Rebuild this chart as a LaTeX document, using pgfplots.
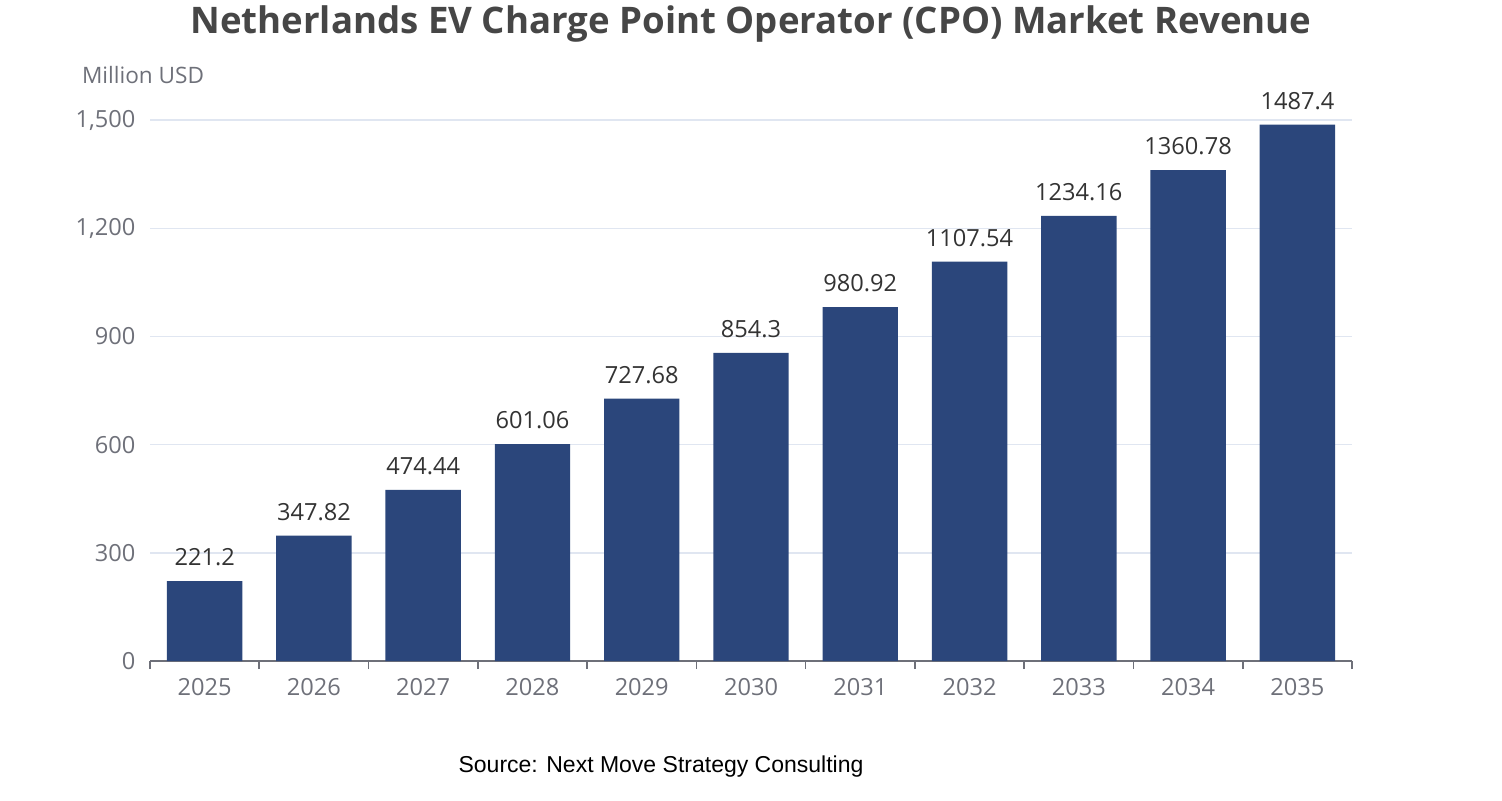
\documentclass[border=0pt]{standalone}
\usepackage{pgfplots}
\pgfplotsset{compat=1.18}
\usepackage{pgfplotstable}
\usepackage{fontspec}
\setmainfont{Open Sans}
\newfontfamily\srcfont{Liberation Sans}
\definecolor{barc}{HTML}{2B467B}
\definecolor{axc}{HTML}{6E7079}
\definecolor{gridc}{HTML}{E0E6F1}
\definecolor{titlec}{HTML}{464646}
\definecolor{labc}{HTML}{333333}
\pgfplotstableread{
x y lab
0 221.2 221.2
1 347.82 347.82
2 474.44 474.44
3 601.06 601.06
4 727.68 727.68
5 854.3 854.3
6 980.92 980.92
7 1107.54 1107.54
8 1234.16 1234.16
9 1360.78 1360.78
10 1487.4 1487.4
}\datatable
\begin{document}
\begin{tikzpicture}
\path[use as bounding box] (0pt,0pt) rectangle (751pt,400pt);
\node[font=\fontsize{18.3}{20}\selectfont\bfseries, text=titlec] at (375.5pt,388pt) {Netherlands EV Charge Point Operator (CPO) Market Revenue};
\node[font=\fontsize{11.3}{13}\selectfont, text=axc, anchor=west] at (37.5pt,362.5pt) {Million USD};
\node[font=\srcfont\fontsize{11.5}{13}\selectfont, text=black, anchor=center] at (330.5pt,16.5pt) {Source: Next Move Strategy Consulting};
\begin{axis}[
  at={(75pt,69.5pt)}, anchor=south west,
  scale only axis, width=601pt, height=270.5pt,
  xmin=-0.5, xmax=10.5, ymin=0, ymax=1500,
  axis lines*=left,
  y axis line style={draw=none},
  x axis line style={axc, line width=0.8pt, -},
  ymajorgrids, grid style={gridc, line width=0.7pt},
  ytick={0,300,...,1500},
  yticklabel style={font=\fontsize{11.8}{13}\selectfont, text=axc, xshift=0.5pt},
  yticklabels={0,300,600,900,{1,200},{1,500}},
  major y tick style={draw=none},
  xtick={0,...,10},
  xticklabels={2025,2026,2027,2028,2029,2030,2031,2032,2033,2034,2035},
  xticklabel style={font=\fontsize{11.8}{13}\selectfont, text=axc, yshift=-1pt},
  major x tick style={draw=none},
  minor xtick={-0.5,0.5,...,10.5},
  minor x tick style={axc, line width=0.8pt},
  minor tick length=4pt,
  tick align=outside,
  clip=false,
]
\addplot[ybar, bar width=37.7pt, fill=barc, draw=none,
  nodes near coords, point meta=explicit symbolic,
  every node near coord/.append style={font=\fontsize{11.8}{13}\selectfont, text=labc, yshift=4pt}]
  table[x=x, y=y, meta=lab] {\datatable};
\end{axis}
\end{tikzpicture}
\end{document}
